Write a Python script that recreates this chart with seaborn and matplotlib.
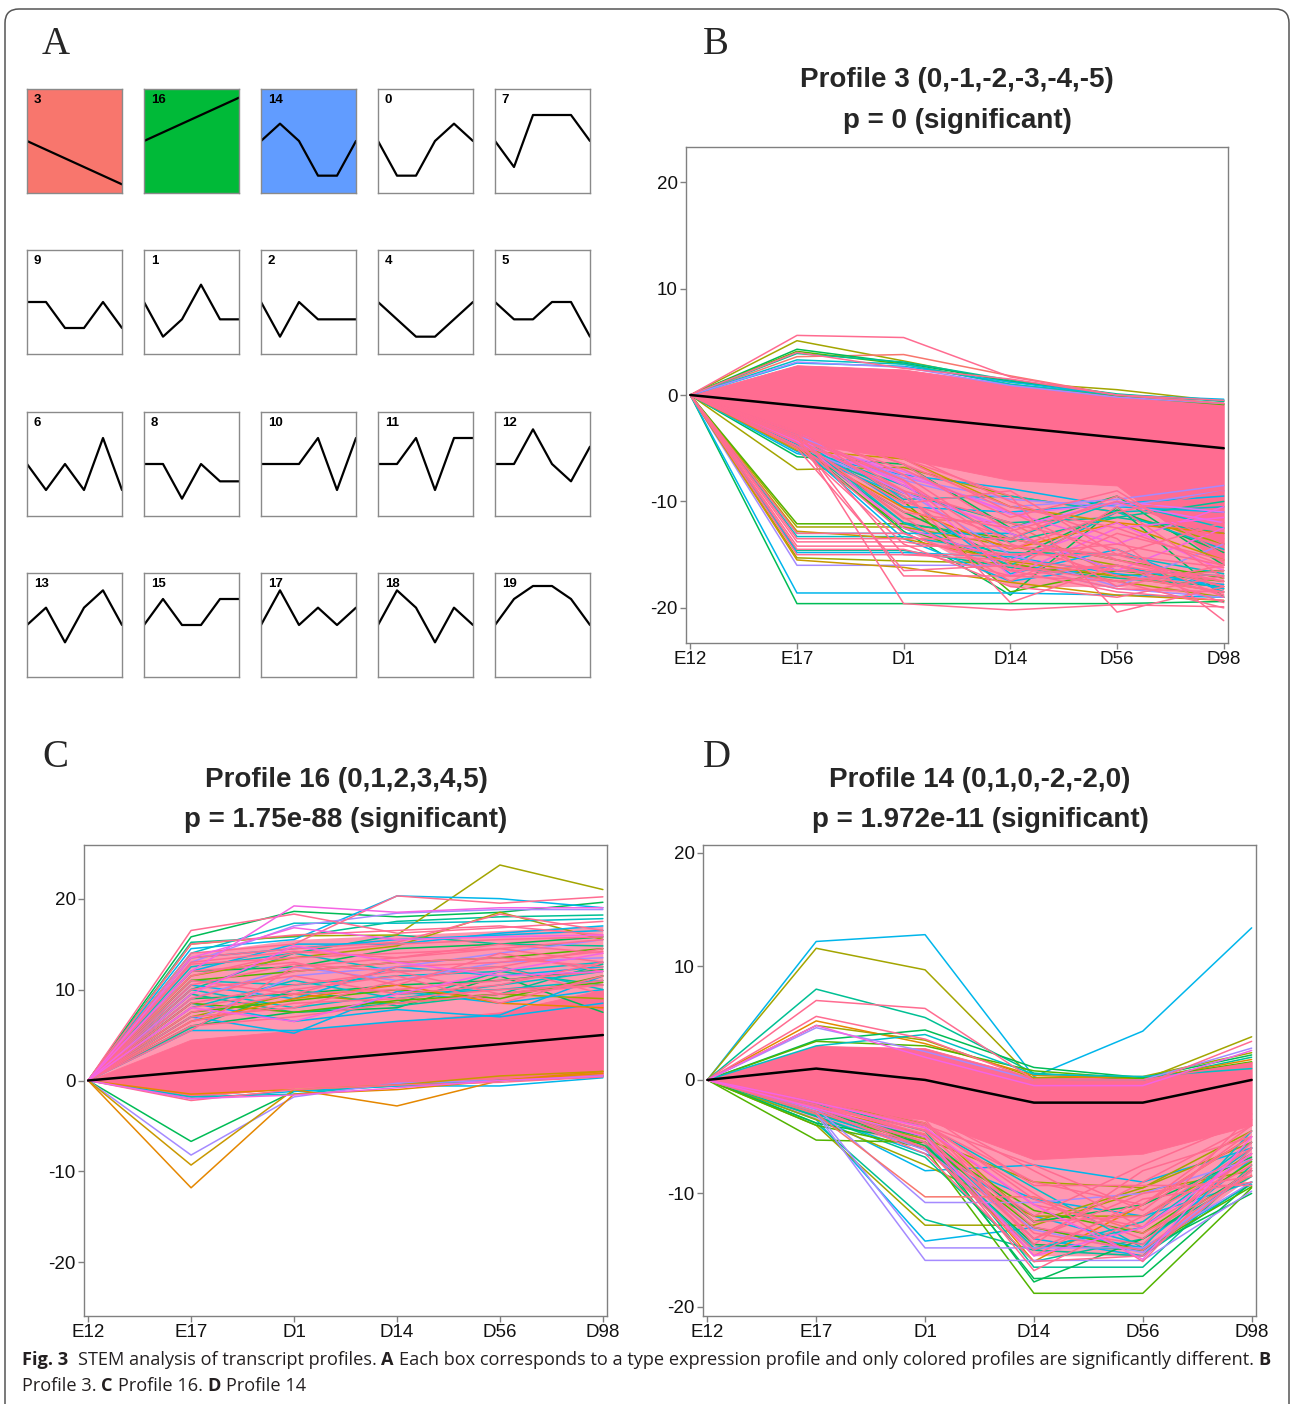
import numpy as np
import pandas as pd
import matplotlib
matplotlib.use("Agg")
import matplotlib.pyplot as plt
import seaborn as sns
from matplotlib.patches import FancyBboxPatch

W, H = 1290, 1404

# --- data ---------------------------------------------------------------
time_labels = ['E12', 'E17', 'D1', 'D14', 'D56', 'D98']

grid_ids = [[3, 16, 14, 0, 7],
            [9, 1, 2, 4, 5],
            [6, 8, 10, 11, 12],
            [13, 15, 17, 18, 19]]
profile_ids = list(range(20))
profile_values = [
    [0, -2, -2, 0, 1, 0],
    [0, -2, -1, 1, -1, -1],
    [0, -2, 0, -1, -1, -1],
    [0, -1, -2, -3, -4, -5],
    [0, -1, -2, -2, -1, 0],
    [0, -1, -1, 0, 0, -2],
    [0, -1, 0, -1, 1, -1],
    [0, -1, 1, 1, 1, 0],
    [0, 0, -2, 0, -1, -1],
    [0, 0, -1, -1, 0, -1],
    [0, 0, 0, 1, -1, 1],
    [0, 0, 1, -1, 1, 1],
    [0, 0, 2, 0, -1, 1],
    [0, 1, -1, 1, 2, 0],
    [0, 1, 0, -2, -2, 0],
    [0, 1, 0, 0, 1, 1],
    [0, 1, 2, 3, 4, 5],
    [0, 2, 0, 1, 0, 1],
    [0, 2, 1, -1, 1, 0],
    [0, 2, 3, 3, 2, 0],
]
sig_ids = [3, 16, 14]
sig_colors = ['#F8766D', '#00BA38', '#619CFF']

# Profile 3
b_model = [0, -1, -2, -3, -4, -5]
b_band_hi = [0, 2.8, 2.4, 1.0, 0.0, -0.7]
b_band_lo = [0, -4.5, -6.0, -8.0, -8.5, -16.0]
b_halo_hi = [0, 2.8, 2.4, 1.0, 0.0, -0.7]
b_halo_lo = [0, -5.0, -12.5, -18.0, -18.0, -19.0]
b_colors = ['ol', 'r', 'gt', 'g', 't', 'b', 'c', 'v',
            'ol', 'y', 'b', 'c', 't', 'g', 'gt', 'v', 'p', 'o', 'r', 'b', 'c', 'gt', 'v', 'm',
            'g', 'ol', 'y', 'b', 'c', 't', 'ol', 'y', 'v', 'b', 'b', 'gt',
            'b', 'c', 't', 'g', 'v', 'p', 'b', 'gt',
            'k', 'k', 'k', 'k', 'k', 'k', 'k', 'k', 'k', 'k', 'k', 'k', 'k', 'k', 'k', 'k', 'k', 'k',
            'm', 'm', 'm',
            'k', 'k', 'k', 'k', 'k', 'k', 'k', 'k', 'k', 'k', 'k', 'k']
b_values = [
    [0, 5.1, 3.2, 1.2, 0.5, -0.6], [0, 3.6, 3.8, 1.8, 0.0, -0.8], [0, 4.3, 3.0, 1.3, 0.0, -0.5],
    [0, 4.1, 2.9, 1.0, -0.1, -0.9], [0, 3.9, 3.1, 1.4, 0.1, -0.6], [0, 3.0, 2.7, 1.2, 0.0, -0.4],
    [0, 3.3, 2.9, 1.0, 0.0, -0.5], [0, 3.1, 2.6, 0.9, -0.2, -0.8],
    [0, -7.0, -6.8, -9.5, -11.0, -14.0], [0, -5.2, -6.0, -10.5, -12.0, -15.5],
    [0, -5.5, -7.5, -8.8, -10.5, -11.0], [0, -4.8, -8.5, -13.5, -10.0, -12.5],
    [0, -5.0, -9.2, -12.0, -11.5, -10.0], [0, -4.6, -10.0, -18.5, -16.5, -17.5],
    [0, -5.8, -6.5, -12.5, -9.5, -16.0], [0, -4.5, -8.0, -10.5, -9.8, -8.5],
    [0, -4.3, -7.2, -11.2, -10.2, -12.0], [0, -5.0, -10.6, -14.5, -12.0, -13.0],
    [0, -4.2, -11.6, -12.0, -17.0, -18.0], [0, -5.3, -9.5, -16.8, -14.5, -18.5],
    [0, -4.0, -12.0, -16.0, -11.0, -14.5], [0, -4.5, -12.8, -18.8, -10.5, -19.0],
    [0, -4.8, -9.0, -15.0, -18.0, -14.0], [0, -4.4, -8.2, -17.0, -12.5, -11.5],
    [0, -12.1, -12.1, -13.5, -15.5, -17.2], [0, -12.4, -12.4, -14.2, -16.0, -18.2],
    [0, -12.8, -13.5, -15.6, -17.0, -18.5], [0, -13.0, -13.0, -13.0, -16.5, -17.0],
    [0, -13.3, -13.3, -14.8, -15.0, -16.8], [0, -14.6, -14.6, -16.2, -17.2, -18.0],
    [0, -15.3, -15.6, -15.8, -17.5, -19.0], [0, -15.5, -16.2, -17.6, -18.8, -19.3],
    [0, -16.0, -16.0, -16.0, -18.2, -19.0], [0, -14.8, -14.8, -15.2, -16.8, -17.8],
    [0, -18.6, -18.6, -18.6, -18.8, -19.0], [0, -19.6, -19.6, -19.6, -19.6, -19.4],
    [0, -4.0, -10.5, -11.0, -10.2, -9.5], [0, -3.8, -9.8, -9.5, -11.0, -10.5],
    [0, -4.5, -12.0, -13.8, -11.5, -13.0], [0, -5.0, -12.5, -16.0, -17.0, -16.5],
    [0, -3.8, -7.8, -9.8, -10.5, -9.0], [0, -4.2, -9.2, -12.5, -10.0, -11.0],
    [0, -4.6, -13.5, -17.5, -16.0, -18.2], [0, -4.9, -11.0, -15.5, -10.8, -14.8],
    [0, 5.6, 5.4, 1.7, 0.0, -0.5], [0, 4.0, 2.5, 1.5, 0.0, -0.8],
    [0, -13.5, -13.5, -13.5, -15.5, -17.5], [0, -13.8, -13.8, -15.0, -14.0, -16.0],
    [0, -14.2, -14.2, -14.2, -15.0, -18.0], [0, -15.0, -15.0, -15.5, -16.5, -17.0],
    [0, -3.8, -19.6, -20.2, -19.7, -19.9], [0, -4.0, -17.0, -17.0, -17.5, -20.0],
    [0, -5.0, -16.5, -16.0, -18.2, -18.5], [0, -3.5, -6.0, -9.5, -20.4, -18.0],
    [0, -2.5, -5.5, -10.0, -13.5, -21.2], [0, -4.2, -9.0, -19.5, -16.0, -19.5],
    [0, -4.8, -11.0, -12.5, -18.0, -16.0], [0, -3.5, -7.0, -11.5, -9.0, -15.0],
    [0, -4.0, -8.0, -14.5, -11.0, -9.0], [0, -3.0, -6.5, -12.8, -10.0, -13.5],
    [0, -4.5, -10.2, -9.0, -15.0, -12.0], [0, -3.8, -9.5, -16.5, -10.5, -17.2],
    [0, -3.5, -8.5, -13.0, -16.5, -12.5], [0, -4.2, -7.5, -11.0, -14.0, -10.5],
    [0, -4.0, -12.5, -15.5, -12.0, -16.5],
    [0, -3.0, -7.5, -14.0, -17.0, -18.5], [0, -4.5, -13.0, -16.5, -16.0, -17.5],
    [0, -2.8, -6.5, -10.5, -12.5, -16.0], [0, -3.2, -9.0, -12.0, -14.5, -19.0],
    [0, -4.0, -11.5, -17.5, -13.0, -15.5], [0, -3.6, -8.0, -16.0, -17.5, -16.5],
    [0, -2.5, -6.0, -11.0, -15.5, -18.0], [0, -3.0, -10.0, -13.5, -9.5, -14.0],
    [0, -4.8, -14.0, -18.0, -19.0, -17.0], [0, -13.0, -13.0, -16.5, -18.5, -19.3],
    [0, -14.5, -14.5, -17.0, -16.0, -18.8], [0, -3.5, -15.0, -15.0, -15.0, -16.2],
]

# Profile 16
c_model = [0, 1, 2, 3, 4, 5]
c_band_hi = [0, 4.5, 5.5, 6.5, 7.5, 10.0]
c_band_lo = [0, -1.8, -0.8, -0.4, 0.0, 0.5]
c_halo_hi = [0, 14.0, 15.5, 16.0, 16.5, 17.0]
c_halo_lo = [0, -1.8, -0.8, -0.4, 0.0, 0.5]
c_colors = ['gt', 't', 'ol', 'b', 'c', 'b', 'v', 'gt', 'ol', 'g', 'b', 'c', 't', 'b', 'c', 'g',
            'ol', 'o', 'gt', 'b', 'v', 'c', 't', 'b',
            'o', 'y', 'v', 'gt', 'o', 'b', 'c',
            'b', 'c', 'gt', 't', 'v', 'g',
            'k', 'k', 'k', 'k', 'k', 'k', 'k', 'k', 'k', 'k', 'k',
            'm', 'm', 'm', 'm', 'm', 'k',
            'k', 'k', 'k', 'k', 'k', 'k', 'k', 'k']
c_values = [
    [0, 15.8, 18.6, 18.0, 18.5, 19.6], [0, 15.2, 15.8, 17.5, 18.0, 18.2],
    [0, 15.0, 15.9, 16.0, 23.7, 21.0], [0, 14.5, 15.5, 20.3, 20.0, 19.0],
    [0, 14.0, 17.3, 17.3, 17.5, 17.8], [0, 13.5, 14.5, 15.5, 16.0, 16.5],
    [0, 13.0, 17.0, 18.4, 18.8, 18.8], [0, 12.0, 12.5, 14.5, 15.0, 15.8],
    [0, 11.5, 13.5, 14.8, 18.5, 15.5], [0, 11.0, 12.0, 13.0, 13.5, 14.5],
    [0, 10.5, 9.0, 12.5, 11.5, 12.5], [0, 10.0, 8.0, 9.5, 10.0, 11.0],
    [0, 9.5, 7.5, 8.5, 12.0, 10.5], [0, 8.5, 6.5, 7.8, 7.0, 8.5],
    [0, 8.0, 11.0, 9.0, 10.5, 12.0], [0, 7.5, 8.8, 10.0, 9.0, 11.5],
    [0, 7.0, 9.5, 8.5, 9.5, 9.0], [0, 6.5, 9.0, 10.5, 8.5, 8.0],
    [0, 6.0, 7.5, 8.0, 11.5, 7.5], [0, 5.5, 5.5, 6.5, 7.2, 11.5],
    [0, 9.0, 12.5, 11.0, 13.0, 13.5], [0, 12.5, 14.0, 12.0, 12.5, 10.0],
    [0, 5.8, 10.0, 8.2, 9.5, 12.8], [0, 7.0, 5.2, 9.8, 8.5, 10.0],
    [0, -11.8, -1.5, -1.0, 0.0, 1.0], [0, -9.3, -1.0, -0.5, 0.5, 1.0],
    [0, -8.2, -1.8, -0.3, 0.0, 0.5], [0, -6.7, -1.2, -0.6, 0.0, 0.5],
    [0, -1.5, -1.0, -2.8, 0.0, 0.8], [0, -2.0, -1.2, -0.6, -0.6, 0.3],
    [0, -1.8, -1.5, -0.4, 0.0, 0.4],
    [0, 12.0, 15.0, 15.0, 16.2, 17.0], [0, 11.0, 10.5, 11.5, 12.0, 13.0],
    [0, 9.0, 9.5, 10.5, 11.0, 12.2], [0, 10.0, 14.0, 16.0, 15.0, 14.8],
    [0, 6.5, 11.5, 12.5, 14.0, 15.5], [0, 8.5, 7.5, 8.8, 9.5, 10.8],
    [0, 16.5, 18.3, 16.2, 16.8, 17.5], [0, 14.0, 15.0, 20.3, 19.5, 20.2],
    [0, 13.5, 14.5, 15.2, 18.3, 16.5], [0, 12.8, 13.5, 14.0, 14.5, 15.5],
    [0, 12.0, 13.0, 10.5, 14.0, 12.0], [0, 11.0, 9.5, 12.5, 13.0, 14.2],
    [0, 10.0, 11.5, 9.5, 10.5, 13.0], [0, 8.5, 10.5, 12.0, 9.5, 10.5],
    [0, 7.0, 8.0, 11.0, 12.5, 9.5], [0, 6.0, 7.0, 8.5, 9.5, 11.0],
    [0, 5.5, 12.5, 13.5, 14.5, 13.0],
    [0, 12.0, 19.2, 18.5, 19.0, 19.0], [0, 13.5, 16.8, 15.5, 15.8, 16.0],
    [0, 9.5, 14.8, 13.0, 11.5, 12.0], [0, 8.0, 6.5, 9.5, 12.0, 14.0],
    [0, -2.0, -1.6, -0.8, 0.0, 0.5], [0, -2.2, -1.0, -0.5, -0.2, 0.4],
    [0, 15.0, 16.0, 16.5, 17.0, 16.0], [0, 11.5, 14.0, 15.0, 15.5, 15.8],
    [0, 9.0, 12.0, 13.0, 13.5, 12.5], [0, 7.5, 9.5, 10.0, 11.0, 12.0],
    [0, 6.5, 8.5, 9.0, 10.0, 10.5], [0, 10.5, 12.8, 12.0, 12.5, 14.5],
    [0, 13.0, 14.2, 13.5, 15.0, 14.0], [0, 8.0, 10.0, 11.5, 8.5, 11.5],
]

# Profile 14
d_model = [0, 1, 0, -2, -2, 0]
d_band_hi = [0, 3.0, 2.8, 0.2, 0.2, 1.6]
d_band_lo = [0, -2.5, -3.5, -7.0, -6.5, -4.0]
d_halo_hi = [0, 3.0, 2.8, 0.2, 0.2, 1.6]
d_halo_lo = [0, -3.5, -6.0, -15.5, -15.5, -8.5]
d_colors = ['b', 'ol', 't', 'o', 'ol', 'gt', 'g', 'c', 'v',
            'g', 'g', 'gt', 't', 'b', 'v', 'v', 'r', 'v', 'ol', 'b', 'ol', 'gt', 't', 'c',
            'b', 'o', 'g', 'c', 'ol', 'b', 'gt',
            'b', 'c', 't', 'v', 'gt', 'ol',
            'k', 'k', 'k', 'k', 'k', 'k', 'k', 'k', 'k', 'k', 'k', 'k',
            'm', 'm', 'm',
            'k', 'k', 'k', 'k', 'k', 'k', 'k', 'k']
d_values = [
    [0, 12.2, 12.8, 0.3, 4.3, 13.4], [0, 11.6, 9.7, 0.0, 0.0, 3.8],
    [0, 8.0, 5.5, 0.6, 0.0, 2.0], [0, 5.2, 3.2, 0.4, 0.1, 1.8],
    [0, 4.8, 3.5, 0.2, 0.3, 2.4], [0, 3.5, 4.4, 1.1, 0.2, 2.2],
    [0, 3.4, 3.0, 0.8, 0.1, 1.6], [0, 3.0, 4.0, 0.5, 0.3, 1.0],
    [0, 4.6, 2.5, 0.0, 0.0, 2.8],
    [0, -5.3, -5.5, -13.0, -15.0, -9.4], [0, -4.0, -6.0, -18.8, -18.8, -9.5],
    [0, -3.8, -5.5, -17.5, -17.3, -9.0], [0, -3.8, -12.3, -15.0, -15.5, -9.0],
    [0, -3.5, -14.2, -13.0, -14.8, -9.2], [0, -3.0, -15.9, -15.9, -15.9, -9.8],
    [0, -2.8, -14.8, -14.8, -14.8, -9.0], [0, -3.0, -10.3, -10.3, -13.5, -8.4],
    [0, -2.5, -10.8, -10.8, -10.0, -7.0], [0, -4.0, -12.8, -12.8, -9.8, -8.0],
    [0, -3.2, -8.0, -7.5, -9.0, -6.0], [0, -3.5, -7.5, -12.0, -12.0, -6.5],
    [0, -2.5, -5.0, -17.8, -14.0, -8.0], [0, -2.0, -4.5, -16.5, -16.5, -7.5],
    [0, -3.0, -6.0, -15.0, -12.5, -5.5], [0, -2.8, -5.0, -14.0, -15.5, -6.0],
    [0, -2.5, -4.8, -16.0, -11.0, -5.0], [0, -3.0, -5.5, -11.5, -13.5, -7.2],
    [0, -2.2, -4.0, -9.5, -14.8, -4.5], [0, -2.0, -3.8, -12.5, -9.5, -5.5],
    [0, -3.2, -6.5, -10.5, -12.0, -9.0], [0, -2.5, -5.8, -14.5, -15.0, -10.0],
    [0, -3.0, -6.0, -12.0, -14.5, -7.0], [0, -2.5, -5.5, -14.8, -13.0, -6.0],
    [0, -3.2, -6.8, -16.0, -14.0, -8.5], [0, -2.6, -6.2, -13.2, -15.2, -8.0],
    [0, -3.0, -5.0, -12.5, -11.0, -6.8], [0, -2.8, -5.2, -9.0, -9.5, -4.5],
    [0, 7.0, 6.3, 0.0, 0.0, 1.5], [0, 5.6, 3.6, 0.0, -0.4, 3.4],
    [0, -2.0, -5.0, -16.8, -12.0, -7.0], [0, -1.5, -3.5, -14.5, -8.0, -5.0],
    [0, -2.0, -4.0, -10.0, -16.0, -6.0], [0, -1.0, -3.0, -9.3, -9.3, -9.3],
    [0, -2.2, -6.0, -15.0, -11.0, -4.0], [0, -1.8, -4.5, -13.0, -14.5, -5.5],
    [0, -2.5, -5.5, -12.0, -7.5, -3.5], [0, -1.2, -3.0, -8.0, -13.0, -7.5],
    [0, -2.0, -4.8, -14.0, -10.0, -8.5], [0, -1.5, -4.0, -7.5, -11.5, -4.5],
    [0, -2.5, -5.0, -15.5, -13.0, -6.5], [0, -2.0, -4.2, -11.0, -15.8, -5.0],
    [0, 4.8, 2.0, -0.5, -0.5, 2.6],
    [0, -2.5, -6.5, -16.0, -15.5, -8.0], [0, -1.8, -4.2, -12.5, -12.0, -6.0],
    [0, -2.2, -5.5, -14.0, -9.0, -4.0], [0, -1.5, -3.8, -10.5, -14.0, -6.5],
    [0, -2.8, -6.0, -15.5, -10.5, -9.0], [0, -1.6, -4.0, -9.0, -11.0, -5.0],
    [0, -2.0, -5.0, -13.5, -15.0, -7.8], [0, -2.4, -4.4, -11.0, -13.0, -3.0],
]

# --- style ----------------------------------------------------------------
PINK = '#FF6C91'
PAL = {'r': '#F8766D', 'o': '#E58700', 'y': '#C99800', 'ol': '#A3A500', 'g': '#53B400',
       'gt': '#00BC56', 't': '#00C094', 'c': '#00BFC4', 'b': '#00B6EB', 'v': '#A58AFF',
       'p': '#DF70F8', 'm': '#F564E3', 'k': PINK}
TOP = ['k', 'm']
AXIS_GREY = '#808080'

sns.set_theme(style='white')
plt.rcParams['font.family'] = ['Liberation Sans', 'DejaVu Sans']
plt.rcParams['axes.edgecolor'] = AXIS_GREY
plt.rcParams['axes.linewidth'] = 1.0
plt.rcParams['axes.unicode_minus'] = False

fig = plt.figure(figsize=(W / 100, H / 100), dpi=100)
fig.patch.set_facecolor('white')


def rect(x0, y0, x1, y1):
    return [x0 / W, 1 - y1 / H, (x1 - x0) / W, (y1 - y0) / H]


def gene_frame(values, colors):
    rows = []
    for g, (vals, c) in enumerate(zip(values, colors)):
        for t, v in enumerate(vals):
            rows.append((g, t, v, c))
    return pd.DataFrame(rows, columns=['gene', 't', 'v', 'col'])


# --- panel A -------------------------------------------------------------
col_x = [27, 144, 261, 378, 495]
row_y = [89, 250, 412, 573]
for r, ids in enumerate(grid_ids):
    for c, pid in enumerate(ids):
        ax = fig.add_axes(rect(col_x[c], row_y[r], col_x[c] + 95, row_y[r] + 104))
        vals = profile_values[profile_ids.index(pid)]
        face = sig_colors[sig_ids.index(pid)] if pid in sig_ids else 'white'
        ax.set_facecolor(face)
        sns.lineplot(x=list(range(6)), y=vals, color='black', lw=1.6, ax=ax)
        lim = max(abs(v) for v in vals) + 1
        ax.set_xlim(0, 5)
        ax.set_ylim(-lim, lim)
        ax.set_xticks([])
        ax.set_yticks([])
        for s in ax.spines.values():
            s.set_color('#8a8a8a')
            s.set_linewidth(1.0)
        ax.text(0.07, 0.95, str(pid), transform=ax.transAxes, ha='left', va='top',
                fontsize=9.5, fontweight='bold', color='black')


# --- panels B, C, D ------------------------------------------------------
def profile_panel(box, values, colors, lo, hi, halo_lo, halo_hi, model, ylim):
    ax = fig.add_axes(rect(*box))
    df = gene_frame(values, colors)
    under = df[~df['col'].isin(TOP)]
    over = df[df['col'].isin(TOP)]
    # loose cloud of overlapping genes, then the solid core
    ax.fill_between(range(6), halo_lo, halo_hi, color=PINK, alpha=0.7, lw=0)
    sns.lineplot(data=under, x='t', y='v', hue='col', units='gene', estimator=None,
                 palette=PAL, legend=False, lw=1.1, sort=False, ax=ax)
    ax.fill_between(range(6), lo, hi, color=PINK, lw=0.6, edgecolor=PINK)
    sns.lineplot(data=over, x='t', y='v', hue='col', units='gene', estimator=None,
                 palette=PAL, legend=False, lw=1.1, sort=False, ax=ax)
    sns.lineplot(x=list(range(6)), y=model, color='black', lw=1.8, ax=ax)
    ax.set_xlim(-0.04, 5.04)
    ax.set_ylim(*ylim)
    ax.set_xticks(range(6))
    ax.set_xticklabels(time_labels)
    ax.set_yticks([-20, -10, 0, 10, 20])
    ax.set_xlabel('')
    ax.set_ylabel('')
    ax.tick_params(axis='both', length=4, width=1, color=AXIS_GREY, labelsize=13.5,
                   labelcolor='#111111', pad=2, left=True, bottom=True)
    for s in ax.spines.values():
        s.set_color(AXIS_GREY)
    return ax


profile_panel((686, 147, 1228, 643), b_values, b_colors, b_band_lo, b_band_hi,
              b_halo_lo, b_halo_hi, b_model, (-23.3, 23.3))
profile_panel((84, 845, 607, 1316), c_values, c_colors, c_band_lo, c_band_hi,
              c_halo_lo, c_halo_hi, c_model, (-25.9, 25.9))
profile_panel((703, 845, 1256, 1316), d_values, d_colors, d_band_lo, d_band_hi,
              d_halo_lo, d_halo_hi, d_model, (-20.8, 20.7))

titles = [(957, 80, 121, 'Profile 3 (0,-1,-2,-3,-4,-5)', 'p = 0 (significant)'),
          (346, 780, 820, 'Profile 16 (0,1,2,3,4,5)', 'p = 1.75e-88 (significant)'),
          (980, 780, 820, 'Profile 14 (0,1,0,-2,-2,0)', 'p = 1.972e-11 (significant)')]
for x, y1, y2, t1, t2 in titles:
    fig.text(x / W, 1 - y1 / H, t1, ha='center', va='center', fontsize=20, fontweight='bold')
    fig.text(x / W, 1 - y2 / H, t2, ha='center', va='center', fontsize=20, fontweight='bold')

for x, y, lab in [(42, 54, 'A'), (703, 54, 'B'), (42, 767, 'C'), (703, 767, 'D')]:
    fig.text(x / W, 1 - y / H, lab, ha='left', va='baseline', fontsize=28,
             family=['Liberation Serif', 'DejaVu Serif'])

# --- caption ---------------------------------------------------------------
fig.canvas.draw()
renderer = fig.canvas.get_renderer()
CAP_FONT = ['Open Sans', 'DejaVu Sans']
CAP_COLOR = '#231F20'


def text_width(s, size, bold):
    t = fig.text(0, 0, s, fontsize=size, fontweight='bold' if bold else 'normal', family=CAP_FONT)
    w = t.get_window_extent(renderer).width
    t.remove()
    return w


line1 = [('Fig. 3', True, 0), ('STEM analysis of transcript profiles.', False, 2), ('A', True, 1),
         ('Each box corresponds to a type expression profile and only colored profiles are significantly different.', False, 1),
         ('B', True, 1)]
line2 = [('Profile 3.', False, 0), ('C', True, 1), ('Profile 16.', False, 1), ('D', True, 1),
         ('Profile 14', False, 1)]


def runs_width(runs, size):
    sp = text_width('a a', size, False) - text_width('aa', size, False)
    return sum(text_width(s, size, b) + g * sp for s, b, g in runs), sp


w12, _ = runs_width(line1, 12)
cap_size = 12 * 1248 / w12


def draw_runs(runs, y, size):
    _, sp = runs_width(runs, size)
    x = 22
    for s, b, g in runs:
        x += g * sp
        t = fig.text(x / W, 1 - y / H, s, fontsize=size, fontweight='bold' if b else 'normal',
                     family=CAP_FONT, color=CAP_COLOR, ha='left', va='baseline')
        x += t.get_window_extent(renderer).width


draw_runs(line1, 1365, cap_size)
draw_runs(line2, 1391, cap_size)

# rounded outer frame
frame = FancyBboxPatch((0.05, -0.4), 12.84, 13.95 + 0.4, boxstyle='round,pad=0,rounding_size=0.14',
                       transform=fig.dpi_scale_trans, fill=False, edgecolor='#555555', lw=1.1)
fig.add_artist(frame)

fig.savefig('out.png', dpi=100, facecolor='white')
